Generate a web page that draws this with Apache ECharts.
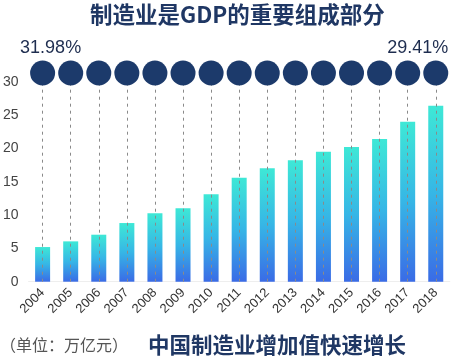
<!DOCTYPE html>
<html>
<head>
<meta charset="utf-8">
<script src="https://cdn.jsdelivr.net/npm/echarts@6/dist/echarts.min.js"></script>
<style>
html,body{margin:0;padding:0;background:#fff;}
#chart{width:459px;height:357px;}
</style>
</head>
<body>
<div id="chart"></div>
<script>
const categories = ['2004','2005','2006','2007','2008','2009','2010','2011','2012','2013','2014','2015','2016','2017','2018'];
const values = [5.2, 6.05, 7.05, 8.8, 10.25, 11.0, 13.1, 15.6, 17.0, 18.2, 19.5, 20.2, 21.4, 24.0, 26.4];
const shareLabels = ['31.98%', '29.41%'];
const yTicks = [0, 5, 10, 15, 20, 25, 30];
const titleText = '制造业是GDP的重要组成部分';
const unitText = '（单位：万亿元）';
const subtitleText = '中国制造业增加值快速增长';

const navy = '#1c3a6b';
const circleLevel = 31.3;
const lineTop = 29.5;
const cjk = '"Noto Sans CJK SC", sans-serif';
const latin = '"Liberation Sans", Arial, sans-serif';

const chart = echarts.init(document.getElementById('chart'), null, {renderer: 'canvas'});

const scatterData = categories.map((c, i) => {
  const item = {value: [c, circleLevel]};
  if (i === 0) {
    item.label = {show: true, formatter: shareLabels[0], offset: [8, 0]};
  } else if (i === categories.length - 1) {
    item.label = {show: true, formatter: shareLabels[1], offset: [-18, 0]};
  }
  return item;
});

chart.setOption({
  animation: false,
  grid: {left: 26.6, right: 9.2, top: 81.7, bottom: 75.3},
  graphic: [
    {type: 'text', left: 90, top: 3, style: {text: titleText, fill: '#1f3764', font: 'bold 22.5px ' + cjk}},
    {type: 'text', left: 0, top: 337, style: {text: unitText, fill: '#555', font: '16px ' + cjk}},
    {type: 'text', left: 148, top: 334, style: {text: subtitleText, fill: '#1f3764', font: 'bold 21.5px ' + cjk}}
  ],
  xAxis: {
    type: 'category',
    data: categories,
    axisLine: {show: true, lineStyle: {color: '#eeeeee'}},
    axisTick: {show: false},
    axisLabel: {rotate: 45, fontSize: 13, color: '#333', fontFamily: latin, margin: 9, interval: 0}
  },
  yAxis: {
    type: 'value',
    min: 0, max: 30, interval: 5,
    axisLine: {show: false},
    axisTick: {show: false},
    splitLine: {show: false},
    axisLabel: {fontSize: 14, color: '#444', fontFamily: latin, margin: 10,
      formatter: v => yTicks.includes(v) ? String(v) : ''}
  },
  series: [
    {
      type: 'bar',
      data: values,
      barWidth: 15,
      itemStyle: {
        color: new echarts.graphic.LinearGradient(0, 0, 0, 1, [
          {offset: 0, color: '#3ee8d6'},
          {offset: 0.5, color: '#36b6e6'},
          {offset: 1, color: '#3a6be6'}
        ])
      },
      silent: true,
      z: 2
    },
    {
      type: 'scatter',
      data: scatterData,
      symbol: 'circle',
      symbolSize: 25,
      clip: false,
      silent: true,
      z: 5,
      itemStyle: {color: navy, opacity: 1},
      label: {show: false, position: 'top', distance: 4, fontSize: 18, color: '#1e2d4f', fontFamily: latin},
      markLine: {
        silent: true,
        symbol: ['none', 'none'],
        label: {show: false},
        lineStyle: {type: [3, 4], color: '#8a8a8a', width: 1},
        emphasis: {disabled: true},
        data: categories.map(c => [{coord: [c, 0]}, {coord: [c, lineTop]}])
      }
    }
  ]
});
</script>
</body>
</html>
